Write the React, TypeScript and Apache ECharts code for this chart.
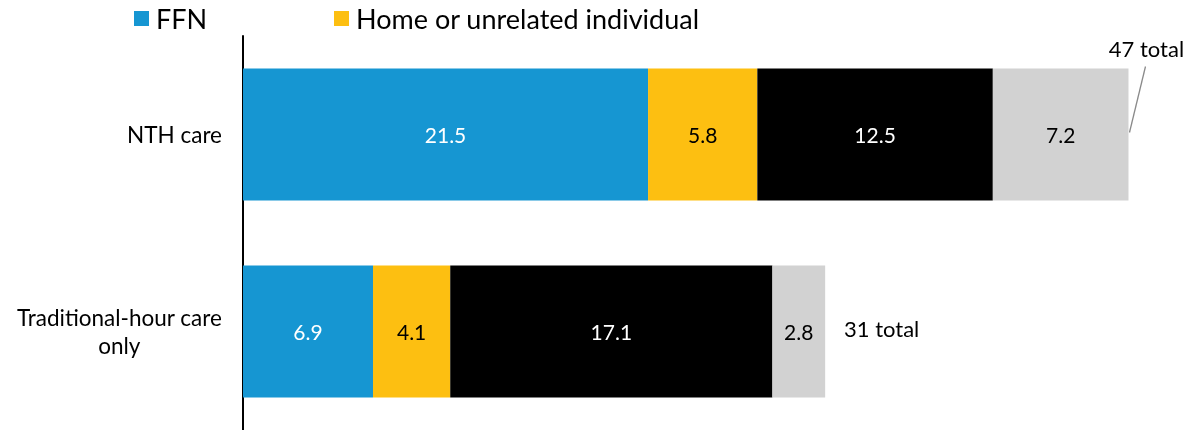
import React, { useEffect, useRef } from "react";
import * as echarts from "echarts";

const categories = ["NTH care", "Traditional-hour care\nonly"];
const ffn = [21.5, 6.9];
const homeUnrelated = [5.8, 4.1];
const center = [12.5, 17.1];
const other = [7.2, 2.8];
const totals = [47, 31];
const legendNames = ["FFN", "Home or unrelated individual"];

const FONT = "Lato";

export default function App() {
  const ref = useRef<HTMLDivElement>(null);
  useEffect(() => {
    const chart = echarts.init(ref.current!, null, { renderer: "svg" });
    const mkSeries = (name: string, data: number[], color: string, labelColor: string) => ({
      name,
      type: "bar",
      stack: "total",
      data,
      barCategoryGap: "33%",
      itemStyle: { color },
      label: {
        show: true,
        position: "inside",
        color: labelColor,
        fontFamily: FONT,
        fontSize: 21,
        formatter: (p: any) => p.value.toFixed(1),
      },
    });
    const legendBase = {
      top: 5,
      padding: 0,
      itemWidth: 15,
      itemHeight: 15,
      icon: "rect",
      textStyle: { fontFamily: FONT, fontSize: 27, color: "#000", padding: [0, 0, 0, 2] },
    };
    chart.setOption({
      animation: false,
      textStyle: { fontFamily: FONT },
      legend: [
        { ...legendBase, data: [legendNames[0]], left: 134 },
        { ...legendBase, data: [legendNames[1]], left: 334 },
      ],
      grid: { left: 243, right: 8, top: 36, bottom: 0, containLabel: false },
      xAxis: {
        type: "value",
        min: 0,
        max: 50,
        show: false,
      },
      yAxis: {
        type: "category",
        data: categories,
        inverse: true,
        axisLine: { show: true, lineStyle: { color: "#000", width: 2 } },
        axisTick: { show: false },
        axisLabel: {
          margin: 21,
          formatter: (v: string) => `{a|${v}}`,
          rich: {
            a: { align: "center", fontFamily: FONT, fontSize: 22.5, color: "#000", lineHeight: 28 },
          },
        },
      },
      series: [
        mkSeries("FFN", ffn, "#1696d2", "#fff"),
        mkSeries("Home or unrelated individual", homeUnrelated, "#fdbf11", "#000"),
        mkSeries("Center-based", center, "#000000", "#fff"),
        mkSeries("Other", other, "#d2d2d2", "#000"),
      ],
    });

    const p0 = chart.convertToPixel({ xAxisIndex: 0, yAxisIndex: 0 }, [totals[0], categories[0]]) as number[];
    const p1 = chart.convertToPixel({ xAxisIndex: 0, yAxisIndex: 0 }, [totals[1], categories[1]]) as number[];
    chart.setOption({
      graphic: [
        {
          type: "line",
          shape: { x1: p0[0] + 1, y1: p0[1] - 2, x2: p0[0] + 17, y2: p0[1] - 68 },
          style: { stroke: "#8a8a8a", lineWidth: 1.3 },
        },
        {
          type: "text",
          x: p0[0] + 18,
          y: p0[1] - 86,
          style: {
            text: `${totals[0]} total`,
            fontFamily: FONT,
            fontSize: 22,
            fill: "#000",
            align: "center",
            verticalAlign: "middle",
          },
        },
        {
          type: "text",
          x: p1[0] + 17,
          y: p1[1] - 3,
          style: {
            text: `${totals[1]} total`,
            fontFamily: FONT,
            fontSize: 22,
            fill: "#000",
            align: "left",
            verticalAlign: "middle",
          },
        },
      ],
    });
    return () => chart.dispose();
  }, []);
  return (
    <div
      ref={ref}
      style={{ position: "fixed", left: 0, top: 0, width: 1193, height: 430 }}
    />
  );
}
